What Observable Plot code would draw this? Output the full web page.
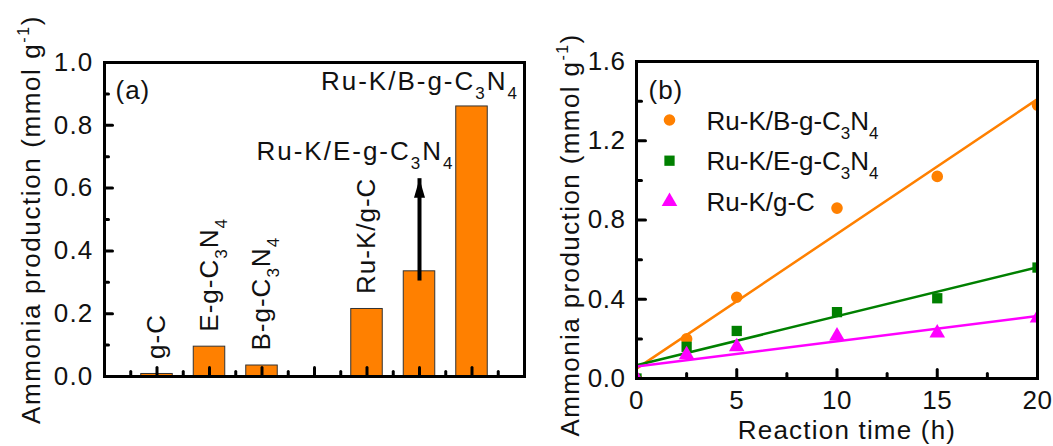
<!DOCTYPE html>
<html><head><meta charset="utf-8">
<script src="https://cdn.jsdelivr.net/npm/d3@7"></script>
<script src="https://cdn.jsdelivr.net/npm/@observablehq/plot@0.6"></script>
<style>
body{margin:0;background:#fff;}
#wrap{position:relative;width:1053px;height:446px;overflow:hidden;background:#fff;}
#wrap svg{position:absolute;top:0;}
</style></head><body><div id="wrap"></div>
<script>
// ---- Panel (a) data ----
const categories = ["g-C", "E-g-C3N4", "B-g-C3N4", "Ru-K/g-C", "Ru-K/E-g-C3N4", "Ru-K/B-g-C3N4"];
const production = [0.008, 0.095, 0.035, 0.215, 0.335, 0.86];
const slots = [1, 2, 3, 5, 6, 7]; // category slot on the x axis (slot 4 left empty)
const arrowBar = "Ru-K/E-g-C3N4";
const arrowFrom = 0.355;
const arrowTo = 0.63;
const yTicksA = [0, 0.2, 0.4, 0.6, 0.8, 1.0];
const yMinorA = [0.1, 0.3, 0.5, 0.7, 0.9];
const xMajorA = [1, 2, 3, 4, 5, 6, 7];
const xMinorA = [0.5, 1.5, 2.5, 3.5, 4.5, 5.5, 6.5, 7.5];

// ---- Panel (b) data ----
const timeH = [0, 2.5, 5, 10, 15, 20];
const seriesNames = ["Ru-K/B-g-C3N4", "Ru-K/E-g-C3N4", "Ru-K/g-C"];
const seriesB = [0, 0.20, 0.41, 0.86, 1.02, 1.38];
const seriesE = [0, 0.16, 0.24, 0.335, 0.405, 0.56];
const seriesG = [0, 0.12, 0.16, 0.215, 0.23, 0.305];
const seriesColors = ["#ff8000", "#008000", "#ff00ff"];
const seriesSymbols = ["circle", "square", "triangle"];
const yTicksB = [0, 0.4, 0.8, 1.2, 1.6];
const yMinorB = [0.2, 0.6, 1.0, 1.4];
const xTicksB = [0, 5, 10, 15, 20];
const xMinorB = [2.5, 7.5, 12.5, 17.5];

const yLabel = "Ammonia production (mmol g-1)";
const xLabelB = "Reaction time (h)";
const panelA = "(a)", panelB = "(b)";

const font = '"Liberation Sans", Arial, sans-serif';
const ink = "#111";

const bars = categories.map((name, i) => ({name, value: production[i], slot: slots[i]}));
const slotOf = name => bars.find(b => b.name === name).slot;
const arrow = [{bar: arrowBar, from: arrowFrom, to: arrowTo}];
const arrowHead = {draw(ctx) { ctx.moveTo(0, 0); ctx.lineTo(5.5, 19); ctx.lineTo(-5.5, 19); ctx.closePath(); }};
const tickShape = {draw(ctx, l) { ctx.moveTo(0, 0); ctx.lineTo(0, -l); }};
const yTickMarks = (values, len) => Plot.vector(values, {y: d => d, frameAnchor: "left", length: len, rotate: 90, anchor: "start", shape: tickShape, stroke: "#000", strokeWidth: 3});
const xTickMarks = (values, len) => Plot.vector(values, {x: d => d, frameAnchor: "bottom", length: len, rotate: 0, anchor: "start", shape: tickShape, stroke: "#000", strokeWidth: 3});

function richText(root) {
  root.querySelectorAll("text").forEach(t => {
    const s = t.textContent;
    const re = /(?<=[CN])(\d)|(?<=g)(-1)(?=\))/g;
    if (!re.test(s)) return;
    re.lastIndex = 0;
    const toks = []; let last = 0, m;
    while ((m = re.exec(s))) {
      if (m.index > last) toks.push([s.slice(last, m.index), 0]);
      toks.push([m[0], m[1] ? 1 : -1]);
      last = m.index + m[0].length;
    }
    if (last < s.length) toks.push([s.slice(last), 0]);
    while (t.firstChild) t.removeChild(t.firstChild);
    let shift = 0;
    for (const [str, mode] of toks) {
      const ts = document.createElementNS("http://www.w3.org/2000/svg", "tspan");
      const target = mode === 1 ? 9 : mode === -1 ? -11 : 0;
      if (target !== shift) ts.setAttribute("dy", target - shift);
      shift = target;
      if (mode !== 0) ts.setAttribute("font-size", mode === 1 ? "17px" : "16px");
      ts.textContent = str;
      t.appendChild(ts);
    }
  });
}
// letter spacing chosen by the role of each text
function spacing(root, rule) {
  root.querySelectorAll("text").forEach(t => {
    const px = rule(t.textContent, t);
    if (px != null) t.style.letterSpacing = px + "px";
  });
}

const plotA = Plot.plot({
  width: 540, height: 446,
  marginLeft: 104, marginRight: 16, marginTop: 62, marginBottom: 70,
  style: {fontFamily: font, fontSize: "26px", color: ink, background: "transparent"},
  x: {domain: [0, 8], axis: null},
  y: {domain: [0, 1]},
  marks: [
    Plot.rectY(bars, {x1: d => d.slot - 0.3, x2: d => d.slot + 0.3, y: "value", fill: "#ff8000", stroke: "#333", strokeWidth: 1}),
    yTickMarks(yTicksA, 8),
    yTickMarks(yMinorA, 4),
    xTickMarks(xMajorA, 9),
    xTickMarks(xMinorA, 5),
    Plot.axisY({ticks: yTicksA, tickSize: 0, tickPadding: 11, tickFormat: d3.format(".1f"), label: null, fill: ink}),
    Plot.ruleX(arrow, {x: d => slotOf(d.bar), y1: "from", y2: "to", stroke: "#000", strokeWidth: 4, insetTop: 16}),
    Plot.dot(arrow, {x: d => slotOf(d.bar), y: "to", symbol: arrowHead, fill: "#000", stroke: "none", r: 5}),
    Plot.text(bars.slice(0, 4), {x: "slot", y: "value", text: "name", rotate: -90, textAnchor: "start", lineAnchor: "middle", dy: -15, fill: ink}),
    Plot.text(bars.slice(5), {x: "slot", y: "value", text: "name", textAnchor: "end", lineAnchor: "middle", dx: 47, dy: -25, fill: ink}),
    Plot.text(arrow, {x: d => slotOf(d.bar), y: "to", text: "bar", textAnchor: "end", lineAnchor: "middle", dx: 35, dy: -27, fill: ink}),
    Plot.text([panelA], {text: d => d, frameAnchor: "top-left", dx: 11, dy: 28, textAnchor: "start", lineAnchor: "middle", fill: ink}),
    Plot.text([yLabel], {text: d => d, frameAnchor: "left", dx: -73, rotate: -90, textAnchor: "middle", lineAnchor: "middle", fill: ink}),
    Plot.frame({stroke: "#000", strokeWidth: 3})
  ]
});

const pts = [];
const seriesValues = [seriesB, seriesE, seriesG];
seriesNames.forEach((name, s) => timeH.forEach((t, i) => pts.push({series: name, t, v: seriesValues[s][i]})));

const plotB = Plot.plot({
  width: 513, height: 446,
  marginLeft: 96, marginRight: 16, marginTop: 61, marginBottom: 68,
  style: {fontFamily: font, fontSize: "26px", color: ink, background: "transparent"},
  x: {domain: [0, 20]},
  y: {domain: [0, 1.6]},
  color: {domain: seriesNames, range: seriesColors},
  symbol: {domain: seriesNames, range: seriesSymbols},
  marks: [
    Plot.linearRegressionY(pts, {x: "t", y: "v", stroke: "series", ci: 0, strokeWidth: 2.5}),
    Plot.dot(pts, {x: "t", y: "v", fill: "series", symbol: "series", r: 5.8, stroke: "none", clip: true}),
    yTickMarks(yTicksB, 9),
    yTickMarks(yMinorB, 5),
    xTickMarks(xTicksB, 9),
    xTickMarks(xMinorB, 5),
    Plot.axisY({ticks: yTicksB, tickSize: 0, tickPadding: 11, tickFormat: d3.format(".1f"), label: null, fill: ink}),
    Plot.axisX({ticks: xTicksB, tickSize: 0, tickPadding: 12, tickFormat: d => String(d), label: null, fill: ink}),
    ...seriesNames.map((name, i) => Plot.dot([name], {frameAnchor: "top-left", dx: 33, dy: 58.5 + 40.7 * i, fill: d => d, symbol: d => d, r: 5.8, stroke: "none"})),
    ...seriesNames.map((name, i) => Plot.text([name], {text: d => d, frameAnchor: "top-left", dx: 70, dy: 60 + 40.5 * i, textAnchor: "start", lineAnchor: "middle", fill: ink})),
    Plot.text([panelB], {text: d => d, frameAnchor: "top-left", dx: 12, dy: 29, textAnchor: "start", lineAnchor: "middle", fill: ink}),
    Plot.text([xLabelB], {text: d => d, frameAnchor: "bottom", dx: 10, dy: 42, textAnchor: "middle", lineAnchor: "top", fill: ink}),
    Plot.text([yLabel], {text: d => d, frameAnchor: "left", dx: -66, dy: 15, rotate: -90, textAnchor: "middle", lineAnchor: "middle", fill: ink}),
    Plot.frame({stroke: "#000", strokeWidth: 3})
  ]
});

const wrap = document.getElementById("wrap");
plotA.style.left = "0px";
plotB.style.left = "540px";
wrap.appendChild(plotA);
wrap.appendChild(plotB);
const rotated = new Set(categories.slice(0, 4));
spacing(plotA, s => s === yLabel ? 1.6 : /^[\d.]+$/.test(s) ? 1.2 : s === panelA ? 1 : rotated.has(s) ? 1 : categories.includes(s) ? 2 : null);
spacing(plotB, s => s === yLabel ? 1.4 : /^[\d.]+$/.test(s) ? 0.5 : s === panelB ? 1 : s === xLabelB ? 1.2 : seriesNames.includes(s) ? 0 : null);
richText(plotA);
richText(plotB);
</script>
</body></html>
